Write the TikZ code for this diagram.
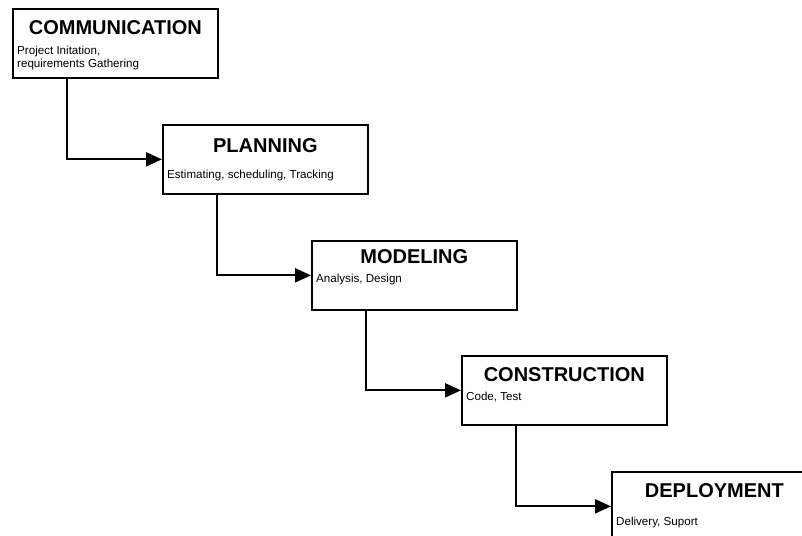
\documentclass[tikz,border=0pt]{standalone}
\usepackage{fontspec}
\setmainfont{Liberation Sans}
\usetikzlibrary{arrows.meta}

\begin{document}
\begin{tikzpicture}[
   x=1pt,y=-1pt,
   phase/.style={draw,line width=1.7pt,rectangle,anchor=north west,
      minimum width=205pt,minimum height=69pt,inner sep=0pt},
   head/.style={anchor=base,inner sep=0pt,font=\fontsize{20}{24}\selectfont\bfseries},
   sub/.style={anchor=base west,inner sep=0pt,align=left,
      font=\fontsize{11.6}{13}\selectfont},
   flow/.style={line width=2.2pt,-{Triangle[length=16pt,width=14pt]}}]
\clip (0,0) rectangle (802,535);
\fill[white] (0,0) rectangle (802,535);
% the five phases
\node[phase] (comm)   at (12,8)   {};
\node[phase] (plan)   at (162,124) {};
\node[phase] (model)  at (311,240) {};
\node[phase] (constr) at (461,355) {};
\node[phase] (deploy) at (611,471) {};
\node[head] (commH)   at ([yshift=-27pt]comm.north)   {COMMUNICATION};
\node[sub]  (commS)   at ([xshift=5pt,yshift=-59pt]comm.north west)
   {Project Initation,\\requirements Gathering};
\node[head] (planH)   at ([yshift=-28pt]plan.north)   {PLANNING};
\node[sub]  (planS)   at ([xshift=5pt,yshift=-54pt]plan.north west)
   {Estimating, scheduling, Tracking};
\node[head] (modelH)  at ([yshift=-23pt]model.north)  {MODELING};
\node[sub]  (modelS)  at ([xshift=5pt,yshift=-42pt]model.north west)
   {Analysis, Design};
\node[head] (constrH) at ([yshift=-26pt]constr.north) {CONSTRUCTION};
\node[sub]  (constrS) at ([xshift=5pt,yshift=-45pt]constr.north west)
   {Code, Test};
\node[head] (deployH) at ([yshift=-26pt]deploy.north) {DEPLOYMENT};
\node[sub]  (deployS) at ([xshift=5pt,yshift=-54pt]deploy.north west)
   {Delivery, Suport};
% waterfall arrows
\draw[flow] ([xshift=55pt]comm.south west)   |- (plan.west);
\draw[flow] ([xshift=55pt]plan.south west)   |- (model.west);
\draw[flow] ([xshift=55pt]model.south west)  |- (constr.west);
\draw[flow] ([xshift=55pt]constr.south west) |- (deploy.west);
\end{tikzpicture}
\end{document}
